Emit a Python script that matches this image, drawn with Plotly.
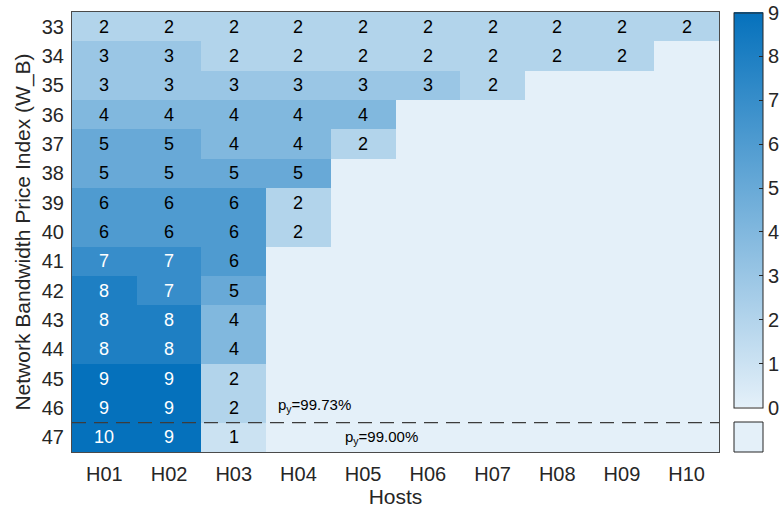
import plotly.graph_objects as go

# Hosts along the x axis, price index along the y axis
hosts = ["H01", "H02", "H03", "H04", "H05", "H06", "H07", "H08", "H09", "H10"]
price_index = ["33", "34", "35", "36", "37", "38", "39", "40",
               "41", "42", "43", "44", "45", "46", "47"]

# Number of allocated units per (price index, host); 0 = none
row_33 = [2, 2, 2, 2, 2, 2, 2, 2, 2, 2]
row_34 = [3, 3, 2, 2, 2, 2, 2, 2, 2, 0]
row_35 = [3, 3, 3, 3, 3, 3, 2, 0, 0, 0]
row_36 = [4, 4, 4, 4, 4, 0, 0, 0, 0, 0]
row_37 = [5, 5, 4, 4, 2, 0, 0, 0, 0, 0]
row_38 = [5, 5, 5, 5, 0, 0, 0, 0, 0, 0]
row_39 = [6, 6, 6, 2, 0, 0, 0, 0, 0, 0]
row_40 = [6, 6, 6, 2, 0, 0, 0, 0, 0, 0]
row_41 = [7, 7, 6, 0, 0, 0, 0, 0, 0, 0]
row_42 = [8, 7, 5, 0, 0, 0, 0, 0, 0, 0]
row_43 = [8, 8, 4, 0, 0, 0, 0, 0, 0, 0]
row_44 = [8, 8, 4, 0, 0, 0, 0, 0, 0, 0]
row_45 = [9, 9, 2, 0, 0, 0, 0, 0, 0, 0]
row_46 = [9, 9, 2, 0, 0, 0, 0, 0, 0, 0]
row_47 = [10, 9, 1, 0, 0, 0, 0, 0, 0, 0]

z = [row_33, row_34, row_35, row_36, row_37, row_38, row_39, row_40,
     row_41, row_42, row_43, row_44, row_45, row_46, row_47]

# Probability thresholds marked on the chart
p_label_high = "p<sub>y</sub>=99.73%"
p_label_low = "p<sub>y</sub>=99.00%"

FONT = "Liberation Sans, Arial, Helvetica, sans-serif"
TXT = "#262626"
LIGHT = "#e4f0f9"
DARK = "#0571bc"
zmax = 9

# Plot area spans 72..719 px horizontally, 12..452 px vertically
W, H = 782, 509
L, R, T, B = 72, 63, 12, 57
pw = W - L - R
ph = H - T - B

def px_x(p):
    return (p - L) / pw

def px_y(p):
    return (H - B - p) / ph

fig = go.Figure()
fig.add_trace(go.Heatmap(
    x=hosts, y=price_index, z=z,
    zmin=0, zmax=zmax,
    colorscale=[[0, LIGHT], [1, DARK]],
    showscale=True,
    colorbar=dict(
        x=px_x(734), xanchor="left", xpad=0,
        y=px_y(12.5), yanchor="top", ypad=0,
        len=(407 - 12.5) / ph, lenmode="fraction",
        thickness=29, thicknessmode="pixels",
        outlinecolor=TXT, outlinewidth=1,
        tickvals=list(range(0, 10)),
        ticks="inside", ticklen=4, tickcolor=TXT,
        tickfont=dict(family=FONT, size=20, color=TXT),
    ),
    hoverinfo="skip",
))

# Cell labels: white on dark cells, black on light ones
for i, row in enumerate(z):
    for j, v in enumerate(row):
        if v > 0:
            fig.add_annotation(
                x=j, y=i, text=str(v), showarrow=False,
                font=dict(family=FONT, size=18,
                          color="white" if v >= 7 else "black"),
            )

# Threshold line between 46 and 47
fig.add_shape(type="line", xref="paper", x0=0, x1=1, y0=13.5, y1=13.5,
              line=dict(color="#3c3c3c", width=1.4, dash="14px,8px"))

fig.add_annotation(x=2.65, y=12.93, text=p_label_high, showarrow=False,
                   xanchor="left", yanchor="middle",
                   font=dict(family=FONT, size=15, color="black"))
fig.add_annotation(x=3.69, y=14.0, text=p_label_low, showarrow=False,
                   xanchor="left", yanchor="middle",
                   font=dict(family=FONT, size=15, color="black"))

# Swatch for cells without allocation, below the colour bar
fig.add_shape(type="rect", xref="paper", yref="paper",
              x0=px_x(734), x1=px_x(763), y0=px_y(452), y1=px_y(422),
              fillcolor=LIGHT, line=dict(color=TXT, width=1))

fig.update_xaxes(
    title=dict(text="Hosts", font=dict(family=FONT, size=21, color=TXT),
               standoff=5),
    tickfont=dict(family=FONT, size=20, color=TXT),
    ticklabelstandoff=4,
    showline=True, mirror=True, linecolor="#4a4a4a", linewidth=1,
    ticks="", showgrid=False, zeroline=False,
)
fig.update_yaxes(
    title=dict(text="Network Bandwidth Price Index (W_B)",
               font=dict(family=FONT, size=21, color=TXT), standoff=5),
    tickfont=dict(family=FONT, size=20, color=TXT),
    ticklabelstandoff=3,
    autorange="reversed",
    showline=True, mirror=True, linecolor="#4a4a4a", linewidth=1,
    ticks="", showgrid=False, zeroline=False,
)

fig.update_layout(
    width=W, height=H,
    margin=dict(l=L, r=R, t=T, b=B, autoexpand=False),
    paper_bgcolor="white", plot_bgcolor=LIGHT,
    font=dict(family=FONT),
)

fig.write_html("out.html")
